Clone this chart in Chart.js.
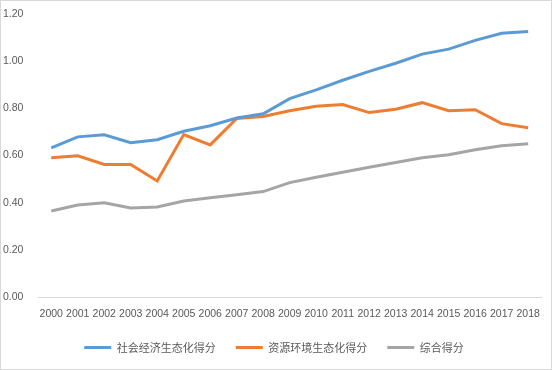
<!DOCTYPE html>
<html>
<head>
<meta charset="utf-8">
<script src="https://cdn.jsdelivr.net/npm/chart.js@4/dist/chart.umd.min.js"></script>
<style>
  html, body { margin: 0; padding: 0; background: #fff; }
  #wrap {
    width: 552px; height: 370px; box-sizing: border-box;
    border: 1px solid #d9d9d9; position: relative;
  }
</style>
</head>
<body>
<div id="wrap"><canvas id="chart"></canvas></div>
<script>
const years = ["2000", "2001", "2002", "2003", "2004", "2005", "2006", "2007", "2008", "2009",
  "2010", "2011", "2012", "2013", "2014", "2015", "2016", "2017", "2018"];

const socioEconomic = [0.632, 0.679, 0.688, 0.654, 0.667, 0.703, 0.726, 0.759, 0.777, 0.841,
  0.878, 0.919, 0.957, 0.991, 1.030, 1.051, 1.088, 1.118, 1.126];

const resourceEnv = [0.590, 0.599, 0.562, 0.562, 0.492, 0.689, 0.645, 0.757, 0.765, 0.790,
  0.809, 0.816, 0.782, 0.796, 0.824, 0.790, 0.794, 0.735, 0.718];

const overall = [0.365, 0.390, 0.400, 0.377, 0.382, 0.407, 0.421, 0.434, 0.447, 0.485,
  0.508, 0.529, 0.550, 0.570, 0.590, 0.603, 0.624, 0.641, 0.650];

const seriesNames = ["社会经济生态化得分", "资源环境生态化得分", "综合得分"];

function makeLine(label, data, color) {
  return {
    label: label,
    data: data,
    borderColor: color,
    backgroundColor: color,
    borderWidth: 3,
    pointRadius: 0,
    pointStyle: "line",
    tension: 0
  };
}

const ctx = document.getElementById("chart").getContext("2d");

new Chart(ctx, {
  type: "line",
  data: {
    labels: years,
    datasets: [
      makeLine(seriesNames[0], socioEconomic, "#5b9bd5"),
      makeLine(seriesNames[1], resourceEnv, "#ed7d31"),
      makeLine(seriesNames[2], overall, "#a5a5a5")
    ]
  },
  options: {
    responsive: true,
    maintainAspectRatio: false,
    animation: false,
    layout: { padding: { top: 13, right: 6, left: 2, bottom: 6 } },
    plugins: {
      legend: {
        position: "bottom",
        labels: {
          usePointStyle: true,
          pointStyle: "line",
          pointStyleWidth: 27,
          color: "#595959",
          padding: 20,
          font: { family: "'Noto Sans CJK SC', sans-serif", size: 11 }
        }
      },
      tooltip: { enabled: false }
    },
    scales: {
      x: {
        offset: true,
        grid: { display: false, drawTicks: false, offset: true },
        border: { display: true, color: "#d9d9d9" },
        afterFit: function (scale) { scale.height = 25; },
        ticks: {
          color: "#595959",
          maxRotation: 0,
          autoSkip: false,
          padding: 11,
          font: { family: "'Liberation Sans', sans-serif", size: 10.5 }
        }
      },
      y: {
        min: 0,
        max: 1.2,
        grid: { display: false },
        border: { display: false },
        afterFit: function (scale) { scale.width = 35; },
        ticks: {
          stepSize: 0.2,
          color: "#595959",
          crossAlign: "far",
          padding: 4,
          font: { family: "'Liberation Sans', sans-serif", size: 10.5 },
          callback: function (v) { return v.toFixed(2); }
        }
      }
    }
  }
});
</script>
</body>
</html>
